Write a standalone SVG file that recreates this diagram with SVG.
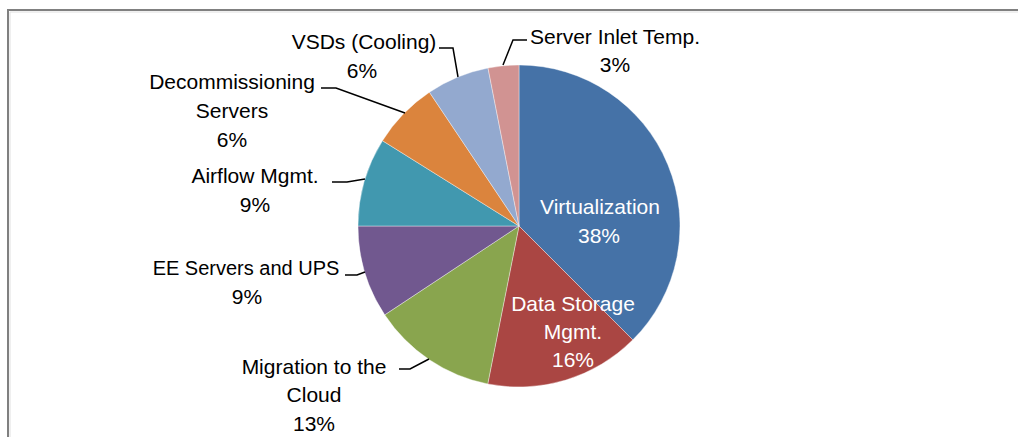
<svg xmlns="http://www.w3.org/2000/svg" width="1018" height="437" viewBox="0 0 1018 437">
<style>
.lbl{font-family:"Liberation Sans",Arial,sans-serif;font-size:21px;fill:#000;text-anchor:middle}
.in{fill:#fff}
.sl{stroke:#fff;stroke-opacity:0.5;stroke-width:0.75}
.ld{fill:none;stroke:#000;stroke-width:1.5}
</style>
<rect x="0" y="0" width="1018" height="437" fill="#fff"/>
<g id="frame">
<path d="M8,437 V10 H1018" fill="none" stroke="#808080" stroke-width="2"/>
<path d="M10,437 V12 H1018" fill="none" stroke="#e0e0e0" stroke-width="1"/>
</g>
<g id="slice-virtualization"><path class="sl" fill="#4572A7" d="M519,226 L519,65 A161,161 0 0 1 632.84,339.84 Z"/><text class="lbl in" x="600" y="214">Virtualization</text><text class="lbl in" x="599" y="243">38%</text></g>
<g id="slice-data-storage"><path class="sl" fill="#AA4643" d="M519,226 L632.84,339.84 A161,161 0 0 1 487.73,383.94 Z"/><text class="lbl in" x="573" y="311">Data Storage</text><text class="lbl in" x="573" y="339">Mgmt.</text><text class="lbl in" x="573" y="367">16%</text></g>
<g id="slice-migration"><path class="sl" fill="#89A54E" d="M519,226 L487.73,383.94 A161,161 0 0 1 384.74,314.86 Z"/><text class="lbl" x="314" y="374">Migration to the</text><text class="lbl" x="314" y="402">Cloud</text><text class="lbl" x="314" y="431">13%</text></g>
<g id="slice-ee-servers"><path class="sl" fill="#71588F" d="M519,226 L384.74,314.86 A161,161 0 0 1 358,226 Z"/><text class="lbl" x="246" y="275" style="font-size:20px">EE Servers and UPS</text><text class="lbl" x="247" y="304">9%</text></g>
<g id="slice-airflow"><path class="sl" fill="#4198AF" d="M519,226 L358,226 A161,161 0 0 1 382.47,140.69 Z"/><text class="lbl" x="255" y="183">Airflow Mgmt.</text><text class="lbl" x="255" y="212">9%</text></g>
<g id="slice-decommissioning"><path class="sl" fill="#DB843D" d="M519,226 L382.47,140.69 A161,161 0 0 1 429.44,92.21 Z"/><text class="lbl" x="232" y="89">Decommissioning</text><text class="lbl" x="232" y="118">Servers</text><text class="lbl" x="232" y="147">6%</text></g>
<g id="slice-vsds"><path class="sl" fill="#93A9CF" d="M519,226 L429.44,92.21 A161,161 0 0 1 488.01,68.01 Z"/><text class="lbl" x="364" y="49">VSDs (Cooling)</text><text class="lbl" x="362" y="78">6%</text></g>
<g id="slice-server-inlet"><path class="sl" fill="#D19392" d="M519,226 L488.01,68.01 A161,161 0 0 1 519,65 Z"/><text class="lbl" x="615" y="44">Server Inlet Temp.</text><text class="lbl" x="615" y="72">3%</text></g>
<g id="connectors">
<polyline class="ld" points="439,48 453,48 458,77"/>
<polyline class="ld" points="527,40 513,40 503,65"/>
<polyline class="ld" points="321,88 336,88 405,113"/>
<polyline class="ld" points="332,182 347,182 365,179"/>
<polyline class="ld" points="345,275 357,275 365,272"/>
<polyline class="ld" points="399,369 410,369 429,359"/>
</g>
</svg>
